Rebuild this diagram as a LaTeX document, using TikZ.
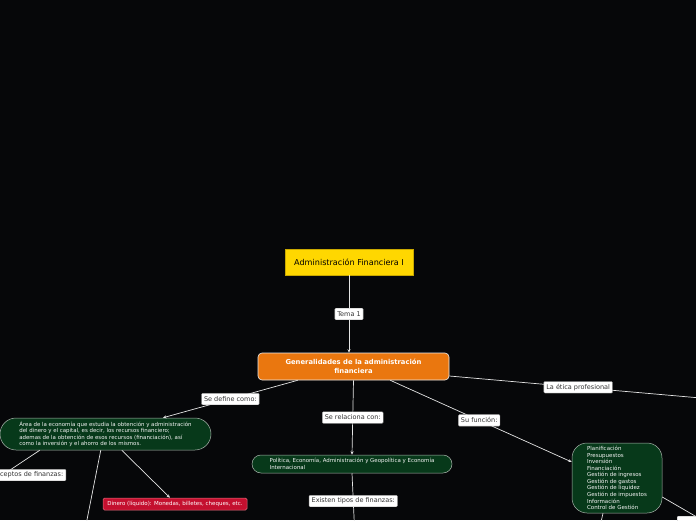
\documentclass[tikz,border=0pt]{standalone}
\usepackage{fontspec}
\setmainfont{DejaVu Sans}
\usetikzlibrary{arrows.meta,calc}
\definecolor{bg}{HTML}{060709}
\definecolor{ttlfill}{HTML}{FFD700}
\definecolor{ttlborder}{HTML}{C9A800}
\definecolor{orangefill}{HTML}{EA770F}
\definecolor{greenfill}{HTML}{07391A}
\definecolor{greenborder}{HTML}{A9B4AC}
\definecolor{redfill}{HTML}{C4102F}
\definecolor{redborder}{HTML}{E07080}
\definecolor{linecol}{HTML}{E4E4E4}
\definecolor{lbltext}{HTML}{333333}
\begin{document}
\begin{tikzpicture}[x=1pt,y=1pt,
  titlebox/.style={fill=ttlfill,draw=ttlborder,line width=0.6pt,minimum width=128pt,minimum height=26pt,inner sep=0pt,font=\fontsize{8.1}{9}\selectfont,text=black},
  orangebox/.style={fill=orangefill,draw=white!85!gray,line width=0.6pt,rounded corners=4pt,minimum width=191pt,minimum height=27pt,inner sep=0pt,align=center,text=white,font=\fontsize{6.8}{8.4}\selectfont\bfseries},
  greenbox/.style={fill=greenfill,draw=greenborder,line width=0.5pt,inner sep=0pt,align=left,text=white!92!gray,font=\fontsize{5.45}{6.4}\selectfont},
  redbox/.style={fill=redfill,draw=redborder,line width=0.5pt,rounded corners=1.5pt,minimum width=144pt,minimum height=12pt,inner sep=0pt,text=white,font=\fontsize{5.5}{6}\selectfont},
  lbl/.style={fill=white,draw=gray!70,line width=0.4pt,rounded corners=1pt,inner xsep=2.5pt,inner ysep=0pt,minimum height=11.5pt,text=lbltext,font=\fontsize{6.5}{7}\selectfont},
  conn/.style={draw=linecol,line width=0.7pt},
  arr/.style={-{Stealth[length=3.5pt,width=3pt]}}
]
\clip (0,0) rectangle (696,520);
\fill[bg] (0,0) rectangle (696,520);

% nodes
\node[titlebox] (title) at (349,258) {Administración Financiera I};
\node[orangebox] (gen) at (353.5,153.5) {Generalidades de la administración\\financiera};
\node[greenbox,minimum width=211pt,minimum height=32pt,rounded corners=16pt] (area) at (105.5,86)
 {Área de la economía que estudia la obtención y administración\\del dinero y el capital, es decir, los recursos financiero;\\ademas de la obtención de esos recursos (financiación), así\\como la inversión y el ahorro de los mismos.};
\node[greenbox,minimum width=200pt,minimum height=18pt,rounded corners=9pt] (rel) at (352,56)
 {Política, Economía, Administración y Geopolítica y Economía\\Internacional};
\node[greenbox,minimum width=90pt,minimum height=70pt,rounded corners=15pt,font=\fontsize{5.5}{6.55}\selectfont] (func) at (617,42)
 {Planificación\\Presupuestos\\Inversión\\Financiación\\Gestión de ingresos\\Gestión de gastos\\Gestión de liquidez\\Gestión de impuestos\\Información\\Control de Gestión};
\node[redbox] (dinero) at (175,16) {Dinero (líquido): Monedas, billetes, cheques, etc.};

\coordinate (c1) at (-35,20);
\coordinate (c2) at (83,-20);
\coordinate (c3) at (356,-40);
\coordinate (c4) at (720,120.3);
\coordinate (c5) at (740,-22);
\coordinate (c6) at (597,-20);

% connectors
\draw[conn,arr] (title.south) -- node[lbl]{Tema 1} (title.south |- gen.north);
\draw[conn,arr] ([xshift=40pt]gen.south west) -- node[lbl]{Se define como:} ([xshift=57.5pt]area.north);
\draw[conn,arr] (gen.south) -- node[lbl]{Se relaciona con:} (rel.north);
\draw[conn,arr] ([xshift=-59pt]gen.south east) -- node[lbl,pos=0.49]{Su función:} ([yshift=16pt]func.west);
\draw[conn] ([yshift=-9.5pt]gen.east) -- node[lbl,pos=0.476]{La ética profesional} (c4);
\draw[conn] ([xshift=40pt]area.south west) -- (c1);
\node[lbl,anchor=east] (concept) at (66,45) {Conceptos de finanzas:};
\draw[conn] ([xshift=101pt]area.south west) -- (c2);
\draw[conn,arr] ([xshift=122pt]area.south west) -- ([xshift=-5pt]dinero.north);
\draw[conn] (rel.south) -- node[lbl,pos=0.32]{Existen tipos de finanzas:} (c3);
\draw[conn] ([yshift=-19pt]func.east) -- (c5);
\node[lbl,anchor=north west,minimum width=50pt,minimum height=12pt] (blank) at (677,4) {};
\draw[conn] ([xshift=-14pt]func.south) -- (c6);
\end{tikzpicture}
\end{document}
